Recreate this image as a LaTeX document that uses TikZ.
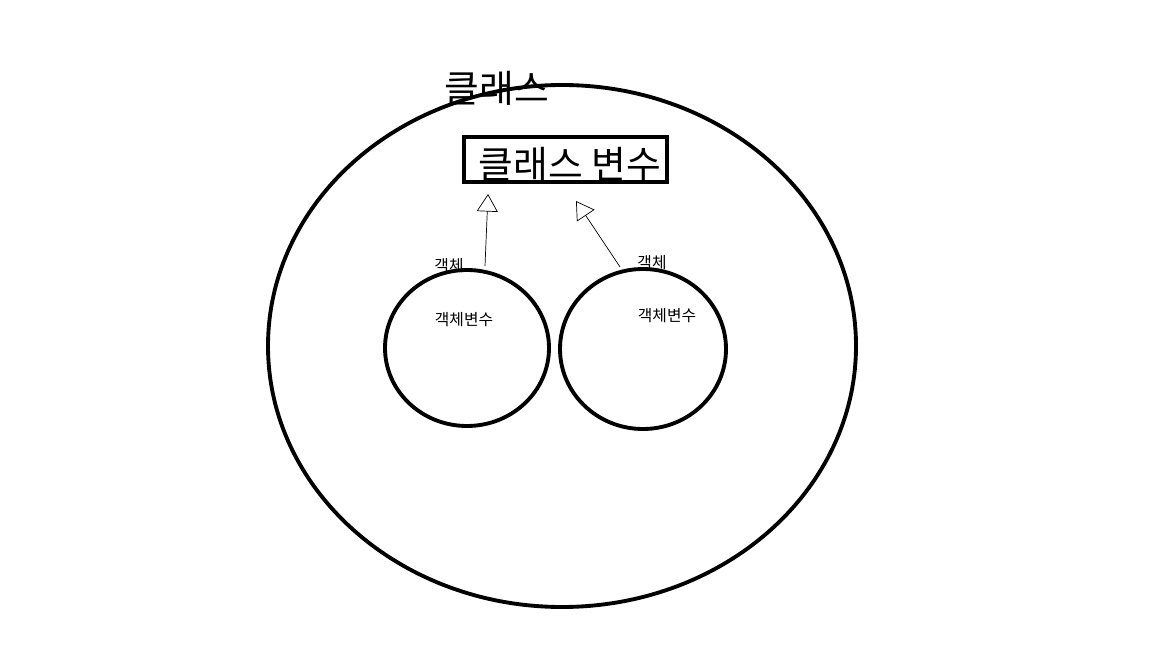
\documentclass[tikz,border=0pt]{standalone}
\usepackage{fontspec}
\newfontfamily\krfont{Noto Sans CJK KR}
\usetikzlibrary{arrows.meta}

\begin{document}
\begin{tikzpicture}[x=0.02cm, y=-0.02cm,
    thickline/.style={line width=2.2pt},
    bigtext/.style={font=\krfont\fontsize{21.5}{22}\selectfont, inner sep=0pt},
    smalltext/.style={font=\krfont\fontsize{9}{10}\selectfont, inner sep=0pt},
    link/.style={-{Triangle[open, length=10pt, width=12pt]}, line width=0.4pt}
  ]
        % Canvas
        \useasboundingbox (0,0) rectangle (1152,648);
        % Class
        \draw[thickline] (562,346) ellipse [x radius=294, y radius=261];
        \node[bigtext] (Class) at (497,88) {클래스};
        % Class variable
        \node[draw, thickline, minimum width=203*0.02cm, minimum height=45*0.02cm,
              inner sep=0pt] (ClassVar) at (565.5,159.5) {};
        \node[bigtext] (ClassVarText) at (570,164) {클래스 변수};
        % Objects
        \draw[thickline] (467,348) ellipse [x radius=82, y radius=78];
        \draw[thickline] (643,349) ellipse [x radius=83, y radius=80];
        \node[smalltext] (ObjLeft) at (449,266) {객체};
        \node[smalltext] (ObjRight) at (652,263) {객체};
        \node[smalltext] (ObjVarLeft) at (464,320) {객체변수};
        \node[smalltext] (ObjVarRight) at (667,316) {객체변수};
        % References
        \coordinate (Left-from) at (485,266);
        \coordinate (Left-to) at (488,194);
        \coordinate (Right-from) at (620,267);
        \coordinate (Right-to) at (576,201);
        \draw[link] (Left-from) -- (Left-to);
        \draw[link] (Right-from) -- (Right-to);
    \end{tikzpicture}
\end{document}
